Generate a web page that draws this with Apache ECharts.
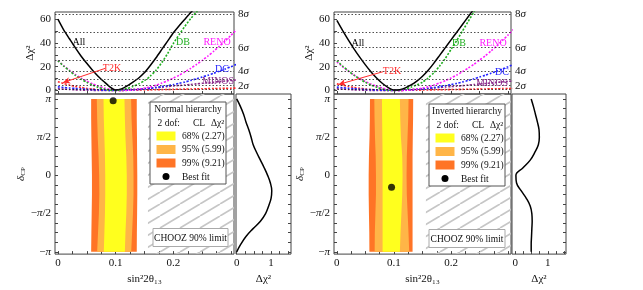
<!DOCTYPE html>
<html>
<head>
<meta charset="utf-8">
<script src="https://cdn.jsdelivr.net/npm/echarts@6.0.0/dist/echarts.min.js"></script>
<style>
html,body{margin:0;padding:0;background:#fff;}
#chart{width:643px;height:290px;}
</style>
</head>
<body>
<div id="chart"></div>
<script>
// ---------------- data ----------------
const s2t = [0,0.01,0.02,0.03,0.04,0.05,0.06,0.07,0.08,0.09,0.10,0.11,0.12,0.13,0.14,0.15,0.16,0.17,0.18,0.19,0.20,0.21,0.22,0.23,0.24,0.25,0.26,0.27,0.28,0.29,0.30,0.31];

// Normal hierarchy: delta chi^2 vs sin^2 2theta13
const allNH   = [60,51,43.5,36,29,22.8,17,11.8,7.3,3, 0.4,1.3,3.8,7,10.5,15,21,27.5,34.5,41.5, 48.5,54.5,60,65.5,71,76.5,82,87.5,93,98.5, 104,109.5];
const dbNH    = [25,20.5,16.5,12.8,9.6,6.8,4.5,2.6,1.2,0.3, 0,0.5,1.7,3.4,5.5,8.2,12,17,23.5,31, 39.5,47,54,60.5,66,72,78,84,90,96, 102,108];
const renoNH  = [25,20.8,17,13.5,10.4,7.8,5.5,3.6,2.1,1, 0.35,0,0.1,0.4,1,1.9,3,4.4,6.2,8.1, 10.4,12.8,15.6,18.6,21.8,25.3,29,33,37.3,41.8, 46.5,51.5];
const dcNH    = [3,2.5,2.1,1.7,1.3,1,0.7,0.45,0.2,0.05, 0,0.05,0.2,0.45,0.8,1.25,1.8,2.45,3.2,4, 4.9,5.95,7.1,8.4,9.8,11.3,12.8,14.5,16.2,18.1, 20,22];
const minosNH = [1.5,1.1,0.8,0.5,0.3,0.15,0.1,0.03,0,0.05, 0.2,0.35,0.6,0.9,1.2,1.6,2,2.4,2.8,3.25, 3.7,4.15,4.6,5.05,5.5,6,6.5,6.95,7.4,7.9, 8.4,8.9];
const t2kNH   = [7.3,5.8,4.5,3.4,2.5,1.7,1.1,0.6,0.3,0.1, 0,0.05,0.1,0.2,0.3,0.4,0.5,0.6,0.7,0.8, 0.9,1,1.1,1.2,1.3,1.4,1.5,1.6,1.7,1.8, 1.9,2];

// Inverted hierarchy
const allIH   = [59,50.5,42.5,35,28,21.5,15.5,10.2,5.8,2.4, 0.4,0.6,2.2,4.6,7.8,12,17,23,29.5,36, 42.5,49,55.5,62,68.5,75,81,87,93,99, 105,111];
const dbIH    = [25,20.5,16.5,12.8,9.6,6.8,4.5,2.6,1.2,0.3, 0,0.4,1.4,2.8,4.6,7,10.5,15,20.5,27, 34.5,42,50,58,66,74,82,90,98,106, 114,122];
const renoIH  = [24,20,16.3,13,10,7.5,5.3,3.4,2,0.9, 0.3,0,0.1,0.45,1.05,1.95,3.1,4.5,6.3,8.2, 10.5,13,15.8,18.8,22,25.5,29.2,33.2,37.5,42, 46.7,51.7];
const dcIH    = [2.8,2.3,1.9,1.5,1.15,0.85,0.6,0.38,0.18,0.05, 0,0.05,0.2,0.45,0.8,1.25,1.8,2.45,3.2,4, 4.9,5.95,7.1,8.4,9.8,11.3,12.8,14.5,16.2,18.1, 20,22];
const minosIH = [1.5,1.1,0.8,0.5,0.3,0.15,0.05,0,0.05,0.1, 0.2,0.35,0.55,0.8,1.05,1.35,1.7,2.05,2.45,2.85, 3.25,3.65,4.05,4.5,4.95,5.4,5.85,6.3,6.75,7.2, 7.6,8];
const t2kIH   = [5.5,4.4,3.4,2.5,1.8,1.2,0.75,0.4,0.15,0.03, 0,0.05,0.1,0.17,0.25,0.33,0.41,0.5,0.58,0.67, 0.75,0.84,0.92,1,1.1,1.18,1.27,1.35,1.44,1.52, 1.6,1.7];

// delta_CP / pi  vs  delta chi^2 (side panels)
const deltaSide = [1,0.9,0.8,0.7,0.6,0.5,0.4,0.3,0.2,0.1,0,-0.1,-0.2,-0.3,-0.4,-0.5,-0.6,-0.7,-0.8,-0.9,-1];
const sideNH = [0,0.11,0.2,0.27,0.35,0.42,0.48,0.58,0.69,0.8,0.9,0.98,1.02,1.0,0.93,0.84,0.69,0.47,0.27,0.12,0];
const sideIH = [0.49,0.56,0.62,0.68,0.73,0.74,0.71,0.6,0.46,0.24,0.02,0.04,0.18,0.34,0.46,0.51,0.52,0.51,0.5,0.49,0.49];

// allowed-region edges (sin^2 2theta13) at delta_CP / pi
const bandDelta = [1,0.75,0.5,0.25,0,-0.25,-0.5,-0.75,-1];
const l99NH = [0.0576,0.0576,0.058,0.0585,0.059,0.059,0.0585,0.058,0.0576];
const l95NH = [0.0674,0.068,0.069,0.0705,0.0715,0.0718,0.071,0.0695,0.068];
const l68NH = [0.079,0.0795,0.0805,0.0815,0.082,0.082,0.0815,0.0805,0.0795];
const r68NH = [0.1153,0.116,0.117,0.1185,0.1193,0.1193,0.1185,0.117,0.116];
const r95NH = [0.1268,0.1275,0.129,0.1305,0.131,0.131,0.13,0.1285,0.127];
const r99NH = [0.1366,0.1366,0.137,0.1372,0.1375,0.1375,0.1372,0.1368,0.1366];
const l99IH = [0.058,0.0578,0.0572,0.0562,0.0557,0.0557,0.0562,0.0568,0.057];
const l95IH = [0.0656,0.066,0.0668,0.068,0.0685,0.0685,0.0675,0.0665,0.0662];
const l68IH = [0.079,0.0793,0.0797,0.0801,0.0801,0.0801,0.0801,0.0801,0.0801];
const r68IH = [0.1104,0.111,0.1122,0.1145,0.1151,0.1145,0.113,0.1115,0.1104];
const r95IH = [0.1256,0.125,0.1238,0.1225,0.1221,0.1225,0.124,0.1255,0.1267];
const r99IH = [0.1337,0.1335,0.133,0.1326,0.1326,0.1326,0.1326,0.1326,0.1326];

const bestNH = [0.0957, 0.978];
const bestIH = [0.0958, -0.156];
const choozLimit = 0.156;

const sigmaGrid = [1,4,9,16,25,36,49,64];
const sigmaTicks = [4,16,36,64];
const sigmaNames = ['2','4','6','8'];
const chiTicks = [0,20,40,60];
const s2tTicks = [0,0.1,0.2];
const deltaTicks = [-1,-0.5,0,0.5,1];
const deltaTickNames = ['−{i|π}','−{i|π}/2','0','{i|π}/2','{i|π}'];
const sideTicks = [0,1];
const levelNames = ['68% (2.27)','95% (5.99)','99% (9.21)'];

// ---------------- styling ----------------
const FONT = 'Liberation Serif';
const C68 = '#ffff1e', C95 = '#ffb547', C99 = '#ff7426';
const COL = {all:'#000000', db:'#1fae1f', reno:'#ff1cff', dc:'#2424ff', minos:'#8a2a8a', t2k:'#ff2a2a'};
const FRAME = '#444';
const XR = [-0.005, 0.305];
const YTOP = [-3, 66];
const YMAIN = [-1.03, 1.065];

const zip = (a, b) => a.map((v, i) => [v, b[i]]);
const range = (a, b, s) => { const r = []; for (let v = a; v <= b + 1e-9; v += s) r.push(+v.toFixed(4)); return r; };

function hatchCanvas() {
  const c = document.createElement('canvas');
  c.width = 20; c.height = 12;
  const g = c.getContext('2d');
  g.strokeStyle = '#c6c6c6'; g.lineWidth = 1.7;
  [-20, 0, 20].forEach(dx => { g.beginPath(); g.moveTo(dx, 12); g.lineTo(dx + 20, 0); g.stroke(); });
  return c;
}
const HATCH = hatchCanvas();

const grids = [
  {left:55, top:12, width:179, height:82},   // 0 NH top
  {left:55, top:94, width:179, height:162},  // 1 NH main
  {left:236, top:94, width:55, height:162},  // 2 NH side
  {left:334, top:12, width:177, height:82},  // 3 IH top
  {left:334, top:94, width:177, height:162}, // 4 IH main
  {left:512, top:94, width:54, height:162}   // 5 IH side
].map(g => Object.assign({show:true, borderColor:FRAME, borderWidth:1, backgroundColor:'rgba(0,0,0,0)'}, g));

const lblStyle = {fontFamily:FONT, fontSize:11, color:'#111'};
const noLine = {show:false, onZero:false};
const tickIn = (vals) => ({show:true, inside:true, length:3, lineStyle:{color:FRAME}, customValues:vals});

function xTop(gi) {
  return {type:'value', gridIndex:gi, min:XR[0], max:XR[1], axisLine:noLine, splitLine:{show:false},
    axisLabel:{show:false}, axisTick:tickIn(range(0,0.3,0.05))};
}
function xMain(gi, nameGap) {
  return {type:'value', gridIndex:gi, min:XR[0], max:XR[1], axisLine:noLine, splitLine:{show:false},
    axisTick:tickIn(range(0,0.3,0.025)),
    axisLabel:Object.assign({margin:4, customValues:s2tTicks, formatter:v => (v===0?'0':String(v))}, lblStyle),
    name:'sin²2θ₁₃', nameLocation:'middle', nameGap:nameGap, nameTextStyle:{fontFamily:FONT, fontSize:11, color:'#111'}};
}
function xSide(gi, mn, mx) {
  return {type:'value', gridIndex:gi, min:mn, max:mx, axisLine:noLine, splitLine:{show:false},
    axisTick:tickIn(range(0,1.5,0.25)),
    axisLabel:Object.assign({margin:4, customValues:sideTicks}, lblStyle),
    name:'Δχ²', nameLocation:'middle', nameGap:16, nameTextStyle:{fontFamily:FONT, fontSize:11, color:'#111'}};
}
function yTop(gi, gap) {
  return {type:'value', gridIndex:gi, min:YTOP[0], max:YTOP[1], axisLine:noLine, splitLine:{show:false},
    axisTick:tickIn(range(0,60,10)),
    axisLabel:Object.assign({margin:4, customValues:chiTicks}, lblStyle),
    name:'Δχ²', nameLocation:'middle', nameGap:gap, nameRotate:90, nameTextStyle:{fontFamily:FONT, fontSize:11, color:'#111'}};
}
function ySigma(gi) {
  return {type:'value', gridIndex:gi, position:'right', min:YTOP[0], max:YTOP[1], axisLine:noLine, splitLine:{show:false},
    axisTick:{show:false},
    axisLabel:Object.assign({margin:4, customValues:sigmaTicks,
      formatter:v => sigmaNames[sigmaTicks.indexOf(v)] + '{i|σ}',
      rich:{i:{fontFamily:FONT, fontSize:11, fontStyle:'italic', color:'#111'}}}, lblStyle)};
}
function yMain(gi, gap) {
  return {type:'value', gridIndex:gi, min:YMAIN[0], max:YMAIN[1], axisLine:noLine, splitLine:{show:false},
    axisTick:tickIn(range(-1,1,0.125)),
    axisLabel:Object.assign({margin:4, customValues:deltaTicks,
      formatter:v => deltaTickNames[deltaTicks.indexOf(v)],
      rich:{i:{fontFamily:FONT, fontSize:11, fontStyle:'italic', color:'#111'}}}, lblStyle),
    name:'{d|δ}{s|CP}', nameLocation:'middle', nameGap:gap, nameRotate:90,
    nameTextStyle:{rich:{d:{fontFamily:FONT, fontSize:11, fontStyle:'italic', color:'#111'},
                         s:{fontFamily:FONT, fontSize:7, color:'#111', padding:[5,0,0,0]}}}};
}
function ySide(gi) {
  return {type:'value', gridIndex:gi, position:'right', min:YMAIN[0], max:YMAIN[1], axisLine:noLine, splitLine:{show:false},
    axisTick:tickIn(range(-1,1,0.125)), axisLabel:{show:false}};
}

function curve(name, xi, yi, data, color, solid) {
  return {type:'line', name, xAxisIndex:xi, yAxisIndex:yi, data:zip(s2t, data), symbol:'none', smooth:0.2,
    clip:true, z:solid?4:3, silent:true,
    lineStyle:{color, width:solid?1.5:1.6, type:solid?'solid':[2,1.6]}};
}
function gridLines(xi, yi) {
  return {type:'line', xAxisIndex:xi, yAxisIndex:yi, data:[[0.5,-10]], symbol:'none', z:1, silent:true,
    lineStyle:{opacity:0},
    markLine:{silent:true, symbol:['none','none'], label:{show:false}, animation:false,
      lineStyle:{color:'#222', width:0.8, type:[1.5,2]},
      data:sigmaGrid.map(v => ({yAxis:v}))}};
}
function arrow(xi, yi, data, from, to) {
  const s = curve('T2K', xi, yi, data, COL.t2k, false);
  s.markLine = {silent:true, symbol:['none','arrow'], symbolSize:[5,7], label:{show:false}, animation:false,
    lineStyle:{color:COL.t2k, width:1, type:'solid'},
    data:[[{coord:from},{coord:to}]]};
  return s;
}
function hatch(xi, yi) {
  return {type:'custom', xAxisIndex:xi, yAxisIndex:yi, z:1, silent:true, data:[0],
    renderItem:(params, api) => {
      const cs = params.coordSys;
      const p = api.coord([choozLimit, 0]);
      return {type:'rect', shape:{x:p[0], y:cs.y, width:cs.x + cs.width - p[0], height:cs.height},
        style:{fill:{type:'pattern', image:HATCH, repeat:'repeat'}}};
    }};
}
function bands(xi, yi, E) {
  return {type:'custom', xAxisIndex:xi, yAxisIndex:yi, z:2, silent:true, data:[0],
    renderItem:(params, api) => {
      const poly = (L, R) => {
        const pts = bandDelta.map((d, i) => api.coord([L[i], d]));
        for (let i = bandDelta.length - 1; i >= 0; i--) pts.push(api.coord([R[i], bandDelta[i]]));
        return pts;
      };
      return {type:'group', children:[
        {type:'polygon', shape:{points:poly(E[0], E[5])}, style:{fill:C99}},
        {type:'polygon', shape:{points:poly(E[1], E[4])}, style:{fill:C95}},
        {type:'polygon', shape:{points:poly(E[2], E[3])}, style:{fill:C68}}
      ]};
    }};
}
function best(xi, yi, pt) {
  return {type:'scatter', xAxisIndex:xi, yAxisIndex:yi, data:[pt], symbolSize:7, z:6, silent:true,
    itemStyle:{color:'#000'}};
}
function side(xi, yi, vals) {
  return {type:'line', xAxisIndex:xi, yAxisIndex:yi, data:zip(vals, deltaSide), symbol:'none', smooth:0.4,
    silent:true, lineStyle:{color:'#000', width:1.5}};
}

// ---------------- graphics (labels & boxes) ----------------
function txt(x, y, text, color, align, size) {
  return {type:'text', x, y, z:100, silent:true,
    style:{text, fill:color || '#111', fontFamily:FONT, fontSize:size || 10, align:align || 'center', verticalAlign:'middle'}};
}
function legendBox(x0, y0, title) {
  const out = [
    {type:'rect', z:99, silent:true, shape:{x:x0, y:y0, width:76, height:82}, style:{fill:'#fff', stroke:'#555', lineWidth:1}},
    txt(x0 + 38, y0 + 7.5, title, '#111', 'center', 9.5),
    txt(x0 + 7.5, y0 + 21, '2 dof:', '#111', 'left', 9.5),
    txt(x0 + 43, y0 + 21, 'CL', '#111', 'left', 9.5),
    txt(x0 + 61, y0 + 21, 'Δχ²', '#111', 'left', 9.5)
  ];
  [C68, C95, C99].forEach((c, i) => {
    const yc = y0 + 34 + i * 13.5;
    out.push({type:'rect', z:100, silent:true, shape:{x:x0 + 6.5, y:yc - 4.5, width:19, height:9}, style:{fill:c}});
    out.push(txt(x0 + 32, yc, levelNames[i], '#111', 'left', 9.5));
  });
  out.push({type:'circle', z:100, silent:true, shape:{cx:x0 + 16, cy:y0 + 74.5, r:3.5}, style:{fill:'#000'}});
  out.push(txt(x0 + 32, y0 + 75, 'Best fit', '#111', 'left', 9.5));
  return out;
}
function choozBox(x0, y0, w) {
  return [
    {type:'rect', z:99, silent:true, shape:{x:x0, y:y0, width:w, height:18}, style:{fill:'#fff', stroke:'#aaa', lineWidth:1}},
    txt(x0 + w / 2, y0 + 9.5, 'CHOOZ 90% limit', '#111', 'center', 9.5)
  ];
}
function curveLabels(pos) {
  return [
    txt(pos.all[0], pos.all[1], 'All', COL.all),
    txt(pos.db[0], pos.db[1], 'DB', COL.db),
    txt(pos.reno[0], pos.reno[1], 'RENO', COL.reno),
    txt(pos.t2k[0], pos.t2k[1], 'T2K', COL.t2k),
    txt(pos.dc[0], pos.dc[1], 'DC', COL.dc),
    txt(pos.minos[0], pos.minos[1], 'MINOS', COL.minos)
  ];
}
const labPosNH = {all:[79,42], db:[183,42], reno:[217,42], t2k:[112,68], dc:[222,69], minos:[218,81]};
const labPosIH = {all:[358,43], db:[459,43], reno:[493,43], t2k:[392,71], dc:[502,72], minos:[492,83]};

const option = {
  animation:false,
  backgroundColor:'#fff',
  grid:grids,
  xAxis:[xTop(0), xMain(1, 16), xSide(2, -0.02, 1.58), xTop(3), xMain(4, 16), xSide(5, -0.1, 1.56)],
  yAxis:[yTop(0, 18), ySigma(0), yMain(1, 21), ySide(2), yTop(3, 16), ySigma(3), yMain(4, 19), ySide(5)],
  series:[
    // NH top
    gridLines(0, 0),
    arrow(0, 0, t2kNH, [0.082, 18.6], [0.009, 6.6]),
    curve('MINOS', 0, 0, minosNH, COL.minos, false),
    curve('DC', 0, 0, dcNH, COL.dc, false),
    curve('RENO', 0, 0, renoNH, COL.reno, false),
    curve('DB', 0, 0, dbNH, COL.db, false),
    curve('All', 0, 0, allNH, COL.all, true),
    // NH main
    hatch(1, 2),
    bands(1, 2, [l99NH, l95NH, l68NH, r68NH, r95NH, r99NH]),
    best(1, 2, bestNH),
    // NH side
    side(2, 3, sideNH),
    // IH top
    gridLines(3, 4),
    arrow(3, 4, t2kIH, [0.081, 15.8], [0.003, 5]),
    curve('MINOS', 3, 4, minosIH, COL.minos, false),
    curve('DC', 3, 4, dcIH, COL.dc, false),
    curve('RENO', 3, 4, renoIH, COL.reno, false),
    curve('DB', 3, 4, dbIH, COL.db, false),
    curve('All', 3, 4, allIH, COL.all, true),
    // IH main
    hatch(4, 6),
    bands(4, 6, [l99IH, l95IH, l68IH, r68IH, r95IH, r99IH]),
    best(4, 6, bestIH),
    // IH side
    side(5, 7, sideIH)
  ],
  graphic:[].concat(
    curveLabels(labPosNH),
    curveLabels(labPosIH),
    legendBox(150, 102, 'Normal hierarchy'),
    legendBox(429, 104, 'Inverted hierarchy'),
    choozBox(153, 228.5, 75),
    choozBox(429, 229.5, 76)
  )
};

const chart = echarts.init(document.getElementById('chart'), null, {renderer:'canvas'});
chart.setOption(option);
</script>
</body>
</html>
